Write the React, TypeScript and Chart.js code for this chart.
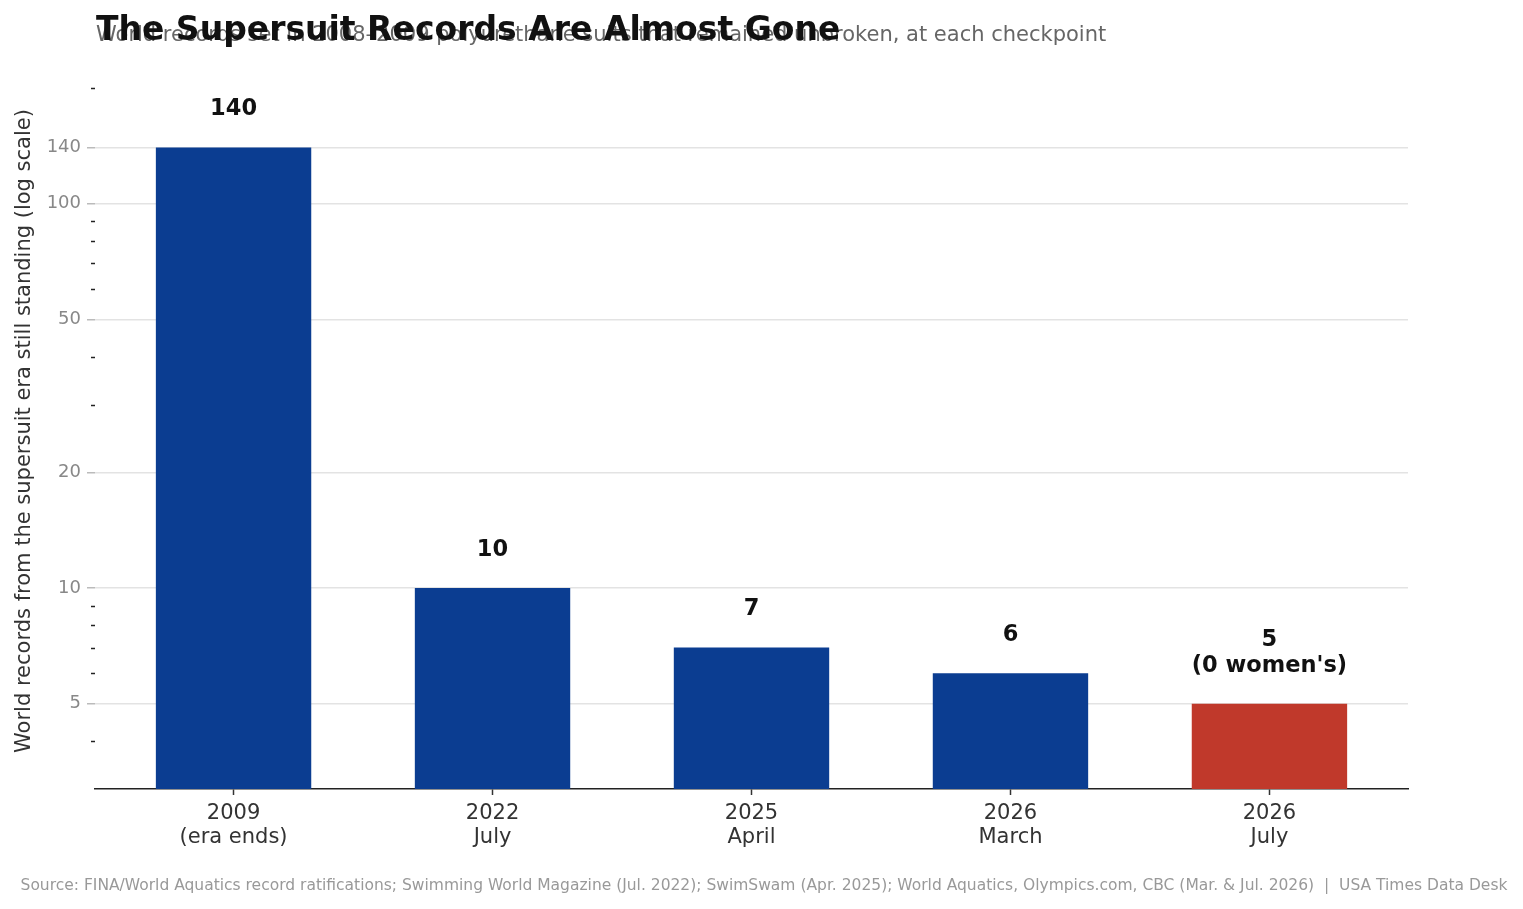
import { useEffect, useRef } from "react";
import { Chart, registerables, type ChartOptions, type Plugin } from "chart.js";

Chart.register(...registerables);

const TITLE = "The Supersuit Records Are Almost Gone";
const SUBTITLE = "World records set in 2008–2009 polyurethane suits that remained unbroken, at each checkpoint";
const SOURCE =
  "Source: FINA/World Aquatics record ratifications; Swimming World Magazine (Jul. 2022); SwimSwam (Apr. 2025); World Aquatics, Olympics.com, CBC (Mar. & Jul. 2026)  |  USA Times Data Desk";
const Y_TITLE = "World records from the supersuit era still standing (log scale)";

const CATEGORIES = [
  ["2009", "(era ends)"],
  ["2022", "July"],
  ["2025", "April"],
  ["2026", "March"],
  ["2026", "July"],
];
const RECORDS = [140, 10, 7, 6, 5];
const BAR_LABELS = [["140"], ["10"], ["7"], ["6"], ["5", "(0 women's)"]];
const BAR_COLORS = ["#0b3d91", "#0b3d91", "#0b3d91", "#0b3d91", "#c0392b"];
const MAJOR_TICKS = [5, 10, 20, 50, 100, 140];
const MINOR_TICKS = [4, 6, 7, 8, 9, 30, 40, 60, 70, 80, 90, 200];

const FONT = "'DejaVu Sans', sans-serif";

const decorations: Plugin<"bar"> = {
  id: "decorations",
  afterDraw(chart) {
    const { ctx, chartArea } = chart;
    const y = chart.scales.y;
    ctx.save();

    // minor log ticks, short and dark
    ctx.strokeStyle = "#222";
    ctx.lineWidth = 1.5;
    MINOR_TICKS.forEach((v) => {
      const py = Math.round(y.getPixelForValue(v)) + 0.5;
      ctx.beginPath();
      ctx.moveTo(chartArea.left - 4, py);
      ctx.lineTo(chartArea.left, py);
      ctx.stroke();
    });

    // value labels above bars
    const meta = chart.getDatasetMeta(0);
    ctx.fillStyle = "#111";
    ctx.font = `bold 22.5px ${FONT}`;
    ctx.textAlign = "center";
    ctx.textBaseline = "middle";
    meta.data.forEach((bar: any, i) => {
      const lines = BAR_LABELS[i];
      lines.forEach((line, j) => {
        ctx.fillText(line, bar.x, bar.y - 38 - (lines.length - 1 - j) * 26);
      });
    });

    // y axis title
    ctx.save();
    ctx.translate(25, 431);
    ctx.rotate(-Math.PI / 2);
    ctx.fillStyle = "#333";
    ctx.font = `21px ${FONT}`;
    ctx.fillText(Y_TITLE, 0, 0);
    ctx.restore();

    // subtitle, then title drawn over it
    ctx.textAlign = "left";
    ctx.textBaseline = "alphabetic";
    ctx.fillStyle = "#666";
    ctx.font = `21px ${FONT}`;
    ctx.fillText(SUBTITLE, 96, 41);
    ctx.fillStyle = "#111";
    ctx.font = `bold 33px ${FONT}`;
    ctx.fillText(TITLE, 96, 40);

    // source line
    ctx.textAlign = "center";
    ctx.fillStyle = "#999";
    ctx.font = `15.5px ${FONT}`;
    ctx.fillText(SOURCE, 764, 890);
    ctx.restore();
  },
};

export default function App() {
  const canvasRef = useRef<HTMLCanvasElement | null>(null);
  const chartRef = useRef<Chart<"bar"> | null>(null);

  useEffect(() => {
    document.body.style.margin = "0";
    if (!canvasRef.current) return;
    chartRef.current?.destroy();

    Chart.defaults.font.family = FONT;

    const options: ChartOptions<"bar"> = {
      responsive: true,
      maintainAspectRatio: false,
      animation: false,
      layout: { padding: { top: 88, right: 115, bottom: 0, left: 0 } },
      plugins: {
        legend: { display: false },
        tooltip: { enabled: false },
      },
      scales: {
        x: {
          type: "linear",
          offset: false,
          min: -0.535,
          max: 4.535,
          afterBuildTicks: (scale) => {
            scale.ticks = CATEGORIES.map((_, i) => ({ value: i }));
          },
          afterFit: (scale) => {
            scale.height = 120;
          },
          ticks: {
            autoSkip: false,
            maxRotation: 0,
            padding: 6,
            color: "#333",
            font: { size: 21, lineHeight: 1.15 },
            callback: (v) => CATEGORIES[Number(v)] ?? "",
          },
          grid: {
            offset: false,
            drawOnChartArea: false,
            drawTicks: true,
            tickLength: 6,
            tickWidth: 1.5,
            tickColor: "#333",
          },
          border: { display: true, color: "#222", width: 1.5 },
        },
        y: {
          type: "logarithmic",
          min: 3,
          max: 200,
          afterBuildTicks: (scale) => {
            scale.ticks = MAJOR_TICKS.map((v) => ({ value: v }));
          },
          afterFit: (scale) => {
            scale.width = 95;
          },
          ticks: {
            padding: 6,
            color: "#888",
            font: { size: 18 },
            callback: (v) => String(v),
          },
          grid: {
            color: "#e3e3e3",
            lineWidth: 1.5,
            tickLength: 8,
            tickWidth: 1.5,
            tickColor: "#bbb",
          },
          border: { display: false },
          title: { display: false },
        },
      },
    };

    chartRef.current = new Chart(canvasRef.current, {
      type: "bar",
      data: {
        datasets: [
          {
            label: "Records standing",
            data: RECORDS.map((y, i) => ({ x: i, y })) as any,
            backgroundColor: BAR_COLORS,
            borderWidth: 0,
            barPercentage: 0.6,
            categoryPercentage: 1,
          },
        ],
      },
      options,
      plugins: [decorations],
    });

    return () => {
      chartRef.current?.destroy();
      chartRef.current = null;
    };
  }, []);

  return (
    <div style={{ position: "relative", width: 1523, height: 909, background: "#fff" }}>
      <canvas ref={canvasRef} />
    </div>
  );
}
